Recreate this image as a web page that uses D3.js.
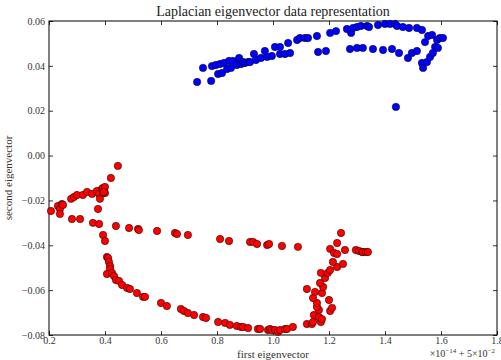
<!DOCTYPE html>
<html>
<head>
<meta charset="utf-8">
<script src="https://cdn.jsdelivr.net/npm/d3@7"></script>
<style>
  body { margin: 0; background: #fff; }
  text { font-family: "Liberation Serif", "DejaVu Serif", serif; }
</style>
</head>
<body>
<svg id="chart" width="501" height="360"></svg>
<script>
// cluster 1 (blue): [first eigenvector, second eigenvector]
const blueX = [0.729,0.750,0.779,0.782,0.796,0.804,0.811,0.818,0.825,0.836,0.843,0.850,0.857,0.871,0.879,0.886,0.893,0.900,0.911,0.918,
  0.932,0.939,0.957,0.971,0.979,0.996,1.007,1.025,1.025,1.043,1.054,1.061,1.086,1.096,1.114,1.125,1.157,1.161,1.189,1.204,
  1.225,1.264,1.279,1.286,1.300,1.314,1.275,1.300,1.321,1.336,1.343,1.357,1.375,1.393,1.400,1.418,1.425,1.436,1.443,1.450,
  1.464,1.482,1.486,1.496,1.514,1.514,1.532,1.532,1.536,1.543,1.550,1.554,1.561,1.568,1.571,1.579,1.586,1.589,1.596,1.607,1.439];
const blueY = [0.0328,0.0391,0.0333,0.0399,0.0404,0.0364,0.0408,0.0368,0.0413,0.0386,0.0422,0.0391,0.0422,0.0404,0.0435,0.0408,0.0417,0.0413,0.0417,0.0417,
  0.0453,0.0426,0.0435,0.0466,0.0440,0.0444,0.0484,0.0484,0.0453,0.0453,0.0502,0.0457,0.0515,0.0524,0.0524,0.0524,0.0533,0.0462,0.0466,0.0547,
  0.0555,0.0564,0.0547,0.0569,0.0573,0.0578,0.0475,0.0480,0.0480,0.0578,0.0573,0.0475,0.0582,0.0471,0.0587,0.0587,0.0475,0.0587,0.0578,0.0457,
  0.0573,0.0435,0.0569,0.0457,0.0466,0.0569,0.0560,0.0413,0.0391,0.0506,0.0417,0.0533,0.0440,0.0538,0.0457,0.0484,0.0515,0.0480,0.0524,0.0524,0.0217];

// cluster 2 (red)
const redX = [0.207,0.232,0.239,0.239,0.246,0.250,0.279,0.289,0.300,0.321,0.336,0.354,0.371,0.375,0.379,0.382,0.389,0.393,0.393,0.400,0.400,0.396,0.421,0.446,
  0.282,0.311,0.357,0.379,0.439,0.486,0.518,0.521,0.586,0.650,0.657,0.696,0.811,0.843,0.918,0.929,0.943,0.979,0.986,1.032,1.089,0.393,0.400,
  0.407,0.411,0.414,0.418,0.418,0.407,0.425,0.432,0.439,0.450,0.461,0.479,0.489,0.514,0.536,0.543,0.600,0.621,0.671,0.682,0.696,0.718,0.750,0.761,
  0.804,0.829,0.846,0.871,0.886,0.893,0.911,0.946,0.954,0.982,0.989,0.996,1.007,1.018,1.025,1.043,1.050,1.071,
  1.121,1.139,1.143,1.171,1.146,1.164,1.175,1.164,1.157,1.204,1.211,1.157,1.143,1.200,1.150,1.175,1.121,1.179,1.168,1.186,1.171,1.196,1.204,1.229,
  1.214,1.250,1.204,1.218,1.229,1.229,1.243,1.257,1.296,1.307,1.318,1.321,1.332,1.339];
const redY = [-0.0247,-0.0225,-0.0238,-0.0260,-0.0216,-0.0220,-0.0193,-0.0185,-0.0176,-0.0176,-0.0162,-0.0171,-0.0158,-0.0238,-0.0171,-0.0193,-0.0149,-0.0167,-0.0144,-0.0140,-0.0167,-0.0162,-0.0100,-0.0046,
  -0.0283,-0.0283,-0.0300,-0.0305,-0.0314,-0.0323,-0.0327,-0.0332,-0.0336,-0.0345,-0.0350,-0.0354,-0.0372,-0.0381,-0.0385,-0.0385,-0.0394,-0.0399,-0.0394,-0.0403,-0.0407,-0.0354,-0.0381,
  -0.0452,-0.0457,-0.0474,-0.0492,-0.0506,-0.0528,-0.0523,-0.0537,-0.0555,-0.0559,-0.0577,-0.0590,-0.0595,-0.0613,-0.0630,-0.0630,-0.0657,-0.0671,-0.0684,-0.0693,-0.0702,-0.0711,-0.0720,-0.0724,
  -0.0742,-0.0746,-0.0755,-0.0760,-0.0764,-0.0764,-0.0769,-0.0773,-0.0773,-0.0778,-0.0773,-0.0778,-0.0778,-0.0786,-0.0778,-0.0773,-0.0773,-0.0764,
  -0.0751,-0.0751,-0.0742,-0.0742,-0.0711,-0.0720,-0.0729,-0.0688,-0.0675,-0.0693,-0.0679,-0.0657,-0.0635,-0.0644,-0.0608,-0.0613,-0.0595,-0.0586,-0.0568,-0.0546,-0.0523,-0.0523,-0.0510,-0.0497,
  -0.0474,-0.0483,-0.0416,-0.0434,-0.0439,-0.0390,-0.0345,-0.0421,-0.0421,-0.0425,-0.0430,-0.0430,-0.0430,-0.0430];

const xTicks = [0.2, 0.4, 0.6, 0.8, 1.0, 1.2, 1.4, 1.6, 1.8];
const yTicks = [0.06, 0.04, 0.02, 0.00, -0.02, -0.04, -0.06, -0.08];

const margin = { top: 21, right: 4, bottom: 25, left: 49 };
const width = 501 - margin.left - margin.right;
const height = 360 - margin.top - margin.bottom;

const svg = d3.select("#chart");
const g = svg.append("g").attr("transform", `translate(${margin.left},${margin.top})`);

const x = d3.scaleLinear().domain([0.2, 1.8]).range([0, width]);
const y = d3.scaleLinear().domain([-0.08, 0.06]).range([height, 0]);

const fmtX = d => d.toFixed(1);
const fmtY = d => (d < 0 ? "\u2212" : "") + Math.abs(d).toFixed(2);

function styleAxis(sel) {
  sel.select(".domain").remove();
  sel.selectAll(".tick line").attr("stroke", "#000").attr("stroke-width", 0.8);
  sel.selectAll(".tick text").attr("fill", "#333").style("font-size", "10px");
}

// inward ticks on all four sides
g.append("g").attr("transform", `translate(0,${height})`)
  .call(d3.axisBottom(x).tickValues(xTicks).tickFormat(fmtX).tickSizeInner(-4).tickSizeOuter(0).tickPadding(2))
  .call(styleAxis);
g.append("g")
  .call(d3.axisTop(x).tickValues(xTicks).tickFormat("").tickSizeInner(-4).tickSizeOuter(0))
  .call(styleAxis);
g.append("g")
  .call(d3.axisLeft(y).tickValues(yTicks).tickFormat(fmtY).tickSizeInner(-4).tickSizeOuter(0).tickPadding(4))
  .call(styleAxis);
g.append("g").attr("transform", `translate(${width},0)`)
  .call(d3.axisRight(y).tickValues(yTicks).tickFormat("").tickSizeInner(-4).tickSizeOuter(0))
  .call(styleAxis);

g.append("rect")
  .attr("width", width).attr("height", height)
  .attr("fill", "none").attr("stroke", "#000").attr("stroke-width", 1);

const blue = blueX.map((v, i) => [v, blueY[i]]);
const red = redX.map((v, i) => [v, redY[i]]);

g.append("g").selectAll("circle").data(blue).enter().append("circle")
  .attr("cx", d => x(d[0])).attr("cy", d => y(d[1])).attr("r", 3.7)
  .attr("fill", "#0000ff").attr("stroke", "#000").attr("stroke-width", 0.5);

g.append("g").selectAll("circle").data(red).enter().append("circle")
  .attr("cx", d => x(d[0])).attr("cy", d => y(d[1])).attr("r", 3.7)
  .attr("fill", "#ff0000").attr("stroke", "#000").attr("stroke-width", 0.5);

svg.append("text")
  .attr("x", margin.left + width / 2).attr("y", 16)
  .attr("text-anchor", "middle").style("font-size", "14px").attr("fill", "#222")
  .text("Laplacian eigenvector data representation");

svg.append("text")
  .attr("x", margin.left + width / 2).attr("y", 358)
  .attr("text-anchor", "middle").style("font-size", "11px").attr("fill", "#333")
  .text("first eigenvector");

svg.append("text")
  .attr("transform", `translate(12,${margin.top + height / 2}) rotate(-90)`)
  .attr("text-anchor", "middle").style("font-size", "11px").attr("fill", "#333")
  .text("second eigenvector");

// offset text at bottom right
const off = svg.append("text")
  .attr("x", margin.left + width - 2).attr("y", 357)
  .attr("text-anchor", "end").style("font-size", "10px").attr("fill", "#333");
off.append("tspan").text("\u00d710");
off.append("tspan").attr("dy", -4).style("font-size", "7px").text("\u221214");
off.append("tspan").attr("dy", 4).text(" + 5\u00d710");
off.append("tspan").attr("dy", -4).style("font-size", "7px").text("\u22122");
</script>
</body>
</html>
